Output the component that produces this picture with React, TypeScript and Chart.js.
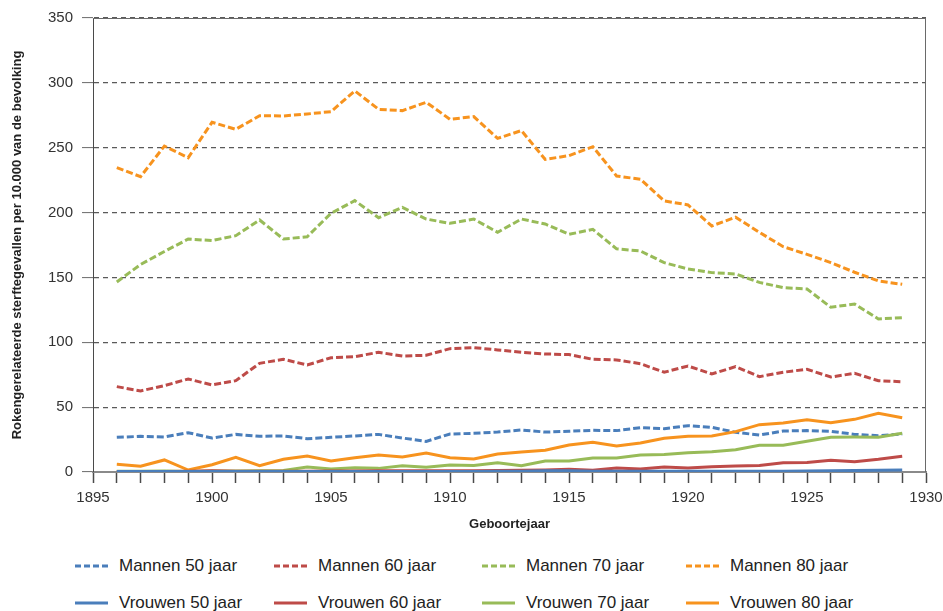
import React, { useEffect, useRef } from 'react';
import { Chart, registerables } from 'chart.js';

Chart.register(...registerables);

const years = [
  1896, 1897, 1898, 1899, 1900, 1901, 1902, 1903, 1904, 1905,
  1906, 1907, 1908, 1909, 1910, 1911, 1912, 1913, 1914, 1915,
  1916, 1917, 1918, 1919, 1920, 1921, 1922, 1923, 1924, 1925,
  1926, 1927, 1928, 1929,
];

const mannen50 = [
  26.7, 27.5, 27, 30.3, 26.2, 29, 27.5, 27.8, 25.7, 26.7,
  27.8, 29, 26.2, 23.6, 29.3, 29.8, 30.8, 32.4, 30.8, 31.4,
  32.1, 31.9, 34.2, 33.4, 35.7, 34.4, 30.6, 28.5, 31.6, 31.9,
  31.4, 29, 28, 29.3,
];
const mannen60 = [
  65.8, 62.5, 66.6, 71.7, 67.1, 70.4, 83.8, 86.9, 82.5, 88.1,
  88.9, 92.3, 89.4, 90, 95.1, 95.9, 94.1, 92.3, 91, 90.5,
  86.9, 86.4, 83.5, 76.9, 81.7, 75.6, 81.2, 73.5, 76.9, 79.2,
  73.2, 76.1, 70.4, 69.6,
];
const mannen70 = [
  146.5, 160, 170, 179.6, 178.4, 182.2, 194.3, 179.6, 181.4, 199.4,
  209.2, 196, 204, 195, 191.7, 195, 184.8, 195, 191.2, 183.2,
  187.1, 172, 170.4, 161.4, 156.5, 153.7, 152.7, 146.2, 142.1, 141.1,
  127, 129.5, 118, 119,
];
const mannen80 = [
  234.6, 227.7, 251.3, 242.3, 269.6, 264.2, 274.7, 274.5, 276, 277.8,
  293.8, 279.6, 278.6, 285, 271.9, 274, 257.2, 263.2, 241, 243.9,
  250.8, 228.2, 225.7, 209, 205.9, 189.7, 196.4, 184.8, 173.7, 167.8,
  161.4, 154, 147.3, 144.7,
];
const vrouwen50 = [
  0.3, 0.3, 0.3, 0.3, 0.4, 0.3, 0.3, 0.3, 0.3, 0.3,
  0.3, 0.4, 0.4, 0.4, 0.4, 0.4, 0.5, 0.5, 0.9, 1.0,
  0.6, 0.5, 0.5, 0.5, 0.5, 0.6, 0.6, 0.6, 0.6, 0.7,
  1.0, 1.1, 1.3, 1.5,
];
const vrouwen60 = [
  0.3, 0.3, 0.4, 0.5, 1.0, 0.6, 0.5, 0.5, 0.6, 0.7,
  0.8, 0.9, 0.9, 1.0, 0.9, 1.0, 1.2, 1.3, 1.5, 2.1,
  1.3, 3.1, 2.3, 3.9, 3.1, 4.1, 4.6, 5.1, 7.2, 7.4,
  9, 8, 9.8, 12.1,
];
const vrouwen70 = [
  0.5, 0.5, 0.7, 0.4, 0.8, 0.8, 1.0, 1.2, 3.8, 2.3,
  3.3, 2.8, 4.9, 3.6, 5.4, 5.1, 7.2, 4.9, 8.5, 8.5,
  10.8, 10.8, 13.1, 13.4, 14.9, 15.7, 17.2, 20.6, 20.6, 23.7,
  26.8, 27, 26.8, 29.8,
];
const vrouwen80 = [
  5.9, 4.4, 9.3, 1.5, 5.6, 11.3, 4.9, 9.8, 12.3, 8.5,
  11, 13.1, 11.6, 14.6, 11, 10, 13.9, 15.4, 16.7, 20.8,
  22.9, 20, 22.4, 26, 27.5, 27.8, 31.1, 36.5, 37.8, 40.3,
  38, 40.6, 45.2, 41.9,
];

const xTitle = 'Geboortejaar';
const yTitle = 'Rokengerelateerde sterftegevallen per 10.000 van de bevolking';

const BLUE = '#4A7EBB';
const RED = '#BE4B48';
const GREEN = '#98BB58';
const ORANGE = '#F7931E';

const seriesDefs = [
  { label: 'Vrouwen 50 jaar', data: vrouwen50, color: BLUE, dashed: false },
  { label: 'Vrouwen 60 jaar', data: vrouwen60, color: RED, dashed: false },
  { label: 'Vrouwen 70 jaar', data: vrouwen70, color: GREEN, dashed: false },
  { label: 'Vrouwen 80 jaar', data: vrouwen80, color: ORANGE, dashed: false },
  { label: 'Mannen 50 jaar', data: mannen50, color: BLUE, dashed: true },
  { label: 'Mannen 60 jaar', data: mannen60, color: RED, dashed: true },
  { label: 'Mannen 70 jaar', data: mannen70, color: GREEN, dashed: true },
  { label: 'Mannen 80 jaar', data: mannen80, color: ORANGE, dashed: true },
];

const legendRows = [
  ['Mannen 50 jaar', 'Mannen 60 jaar', 'Mannen 70 jaar', 'Mannen 80 jaar'],
  ['Vrouwen 50 jaar', 'Vrouwen 60 jaar', 'Vrouwen 70 jaar', 'Vrouwen 80 jaar'],
];

const FONT = '"Liberation Sans", Arial, Helvetica, sans-serif';

const borderPlugin = {
  id: 'plotBorder',
  afterDatasetsDraw(chart: any) {
    const { ctx, chartArea } = chart;
    ctx.save();
    ctx.strokeStyle = '#6a6a6a';
    ctx.lineWidth = 1;
    ctx.beginPath();
    ctx.moveTo(chartArea.left, chartArea.top + 0.5);
    ctx.lineTo(chartArea.right, chartArea.top + 0.5);
    ctx.moveTo(chartArea.right - 0.5, chartArea.top);
    ctx.lineTo(chartArea.right - 0.5, chartArea.bottom);
    ctx.stroke();
    ctx.restore();
  },
};

function LegendSample({ color, dashed }: { color: string; dashed: boolean }) {
  return (
    <svg width={33} height={6} style={{ display: 'block' }}>
      <line
        x1={0}
        y1={3}
        x2={33}
        y2={3}
        stroke={color}
        strokeWidth={3}
        strokeDasharray={dashed ? '6 3' : undefined}
      />
    </svg>
  );
}

export default function App() {
  const canvasRef = useRef<HTMLCanvasElement | null>(null);

  useEffect(() => {
    const canvas = canvasRef.current;
    if (!canvas) return;
    const datasets = seriesDefs.map((s) => ({
      label: s.label,
      data: years.map((yr, i) => ({ x: yr, y: s.data[i] })),
      borderColor: s.color,
      backgroundColor: s.color,
      borderWidth: 3,
      borderDash: s.dashed ? [7, 3] : [],
      pointRadius: 0,
      pointHoverRadius: 0,
      tension: 0,
      fill: false,
    }));

    const chart = new Chart(canvas, {
      type: 'line',
      data: { datasets },
      plugins: [borderPlugin],
      options: {
        animation: false,
        responsive: false,
        maintainAspectRatio: false,
        devicePixelRatio: 1,
        layout: { padding: { left: 0, right: 17, top: 18, bottom: 0 } },
        plugins: {
          legend: { display: false },
          tooltip: { enabled: false },
        },
        scales: {
          x: {
            type: 'linear',
            min: 1895,
            max: 1930,
            afterFit: (scale: any) => {
              scale.height = 60;
              scale.paddingLeft = 0;
              scale.paddingRight = 0;
            },
            ticks: {
              stepSize: 1,
              autoSkip: false,
              maxRotation: 0,
              minRotation: 0,
              padding: 6,
              color: '#333',
              font: { family: FONT, size: 15 },
              callback: (v: any) => (Number(v) % 5 === 0 ? String(v) : ''),
            },
            grid: {
              display: true,
              drawOnChartArea: false,
              drawTicks: true,
              tickLength: 11,
              tickColor: '#4a4a4a',
              tickWidth: 1.5,
            },
            border: { display: true, color: '#8a8a8a', width: 2 },
            title: {
              display: true,
              text: xTitle,
              color: '#222',
              font: { family: FONT, size: 13, weight: 'bold' },
              padding: { top: 0, bottom: 0 },
            },
          },
          y: {
            type: 'linear',
            min: 0,
            max: 350,
            afterFit: (scale: any) => {
              scale.width = 93;
              scale.paddingTop = 0;
              scale.paddingBottom = 0;
            },
            ticks: {
              stepSize: 50,
              padding: 9,
              color: '#333',
              font: { family: FONT, size: 15 },
            },
            grid: {
              display: true,
              drawOnChartArea: true,
              drawTicks: true,
              tickLength: 11,
              color: '#5a5a5a',
              lineWidth: 1.2,
              tickColor: '#6a6a6a',
              tickWidth: 1,
            },
            border: { display: true, color: '#4a4a4a', width: 1, dash: [5, 4] },
            title: {
              display: true,
              text: yTitle,
              color: '#222',
              font: { family: FONT, size: 13, weight: 'bold' },
              padding: { top: 10, bottom: 0 },
            },
          },
        },
      },
    } as any);

    return () => {
      chart.destroy();
    };
  }, []);

  const colStarts = [75, 274, 482, 686];
  const rowCenters = [566, 603];
  const colorFor = (label: string) =>
    label.includes('50') ? BLUE : label.includes('60') ? RED : label.includes('70') ? GREEN : ORANGE;

  return (
    <div
      style={{
        position: 'fixed',
        left: 0,
        top: 0,
        width: 943,
        height: 611,
        overflow: 'hidden',
        background: '#fff',
      }}
    >
      <canvas
        ref={canvasRef}
        width={943}
        height={532}
        style={{ position: 'absolute', left: 0, top: 0, width: 943, height: 532 }}
      />
      {legendRows.map((row, ri) =>
        row.map((label, ci) => (
          <div
            key={label}
            style={{
              position: 'absolute',
              left: colStarts[ci],
              top: rowCenters[ri] - 11,
              height: 22,
              display: 'flex',
              alignItems: 'center',
              fontFamily: FONT,
              fontSize: 17,
              color: '#222',
              whiteSpace: 'nowrap',
            }}
          >
            <LegendSample color={colorFor(label)} dashed={ri === 0} />
            <span style={{ marginLeft: 11 }}>{label}</span>
          </div>
        ))
      )}
    </div>
  );
}
